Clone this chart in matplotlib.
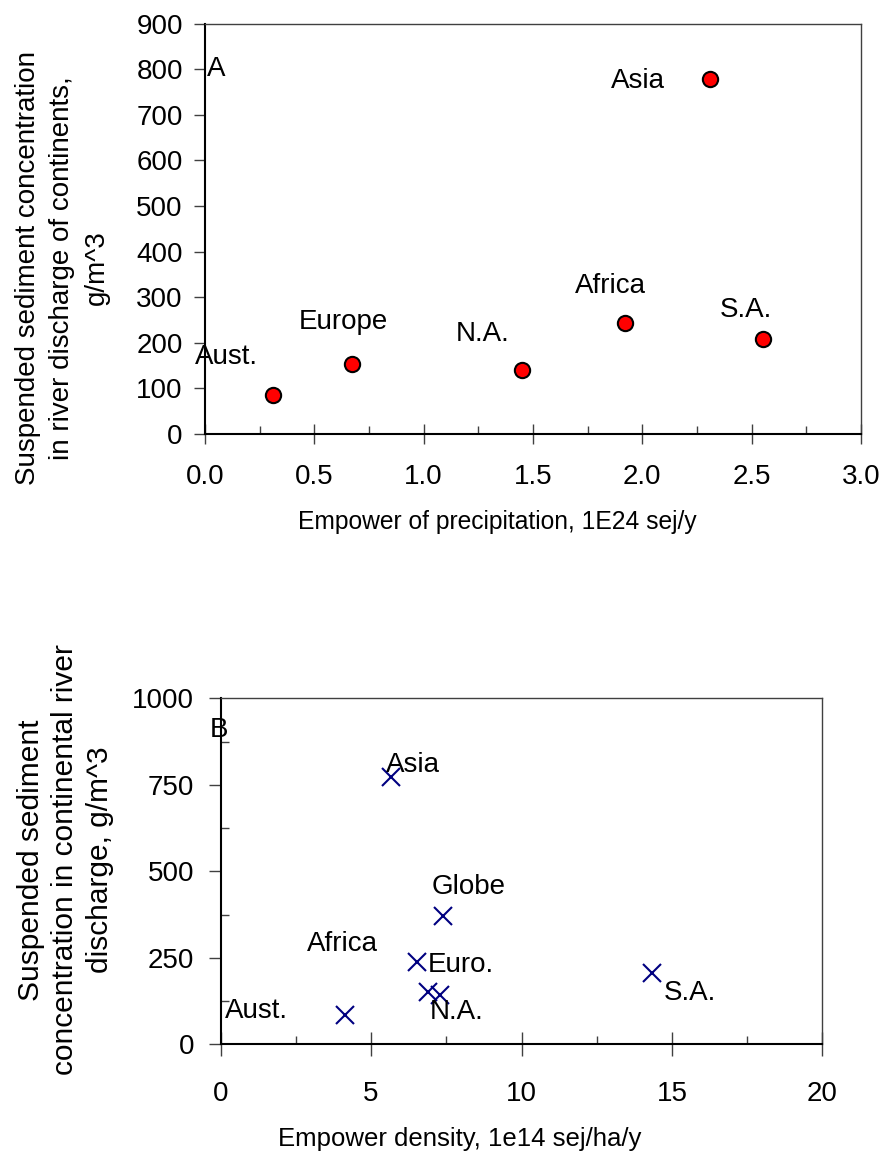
import numpy as np
import matplotlib
matplotlib.use('Agg')
import matplotlib.pyplot as plt
from matplotlib.ticker import MultipleLocator

plt.rcParams['font.family'] = ['Liberation Sans', 'DejaVu Sans']

# panel A data
a_names = ['Aust.', 'Europe', 'N.A.', 'Africa', 'Asia', 'S.A.']
a_empower = [0.31, 0.67, 1.45, 1.92, 2.31, 2.55]
a_sediment = [85, 154, 140, 243, 778, 209]
# label offsets in pixels from the point
a_offsets = [(-46, 38), (-8, 42), (-39, 36), (-14, 37), (-72, -2), (-17, 29)]

# panel B data
b_names = ['Aust.', 'Africa', 'Asia', 'Euro.', 'N.A.', 'Globe', 'S.A.']
b_density = [4.13, 6.51, 5.66, 6.90, 7.29, 7.40, 14.35]
b_sediment = [85, 239, 773, 152, 142, 372, 207]
b_offsets = [(-88, 4), (-74, 18), (22, 12), (33, 27), (17, -17), (25, 29), (38, -20)]


def style_axes(ax):
    for s in ['top', 'right']:
        ax.spines[s].set_color('#404040')
        ax.spines[s].set_linewidth(1.0)
    for s in ['left', 'bottom']:
        ax.spines[s].set_color('black')
        ax.spines[s].set_linewidth(1.5)


def put_labels(ax, x, y, names, offsets):
    for i, txt in enumerate(names):
        ax.annotate(txt, (x[i], y[i]), xytext=offsets[i], textcoords='offset pixels',
                    ha='center', va='center', fontsize=20)


fig = plt.figure(figsize=(8.81, 11.63), dpi=100)

# ---- A
ax1 = fig.add_axes([0.2327, 0.6268, 0.7446, 0.3528])
ax1.plot(a_empower, a_sediment, 'o', color='red', markeredgecolor='black',
         markeredgewidth=1.5, markersize=11, clip_on=False)
put_labels(ax1, a_empower, a_sediment, a_names, a_offsets)
ax1.set_xlim(0, 3.0)
ax1.set_ylim(0, 900)
ax1.xaxis.set_major_locator(MultipleLocator(0.5))
ax1.xaxis.set_minor_locator(MultipleLocator(0.25))
ax1.yaxis.set_major_locator(MultipleLocator(100))
ax1.xaxis.set_major_formatter(matplotlib.ticker.FormatStrFormatter('%.1f'))
ax1.tick_params(axis='x', which='major', direction='inout', length=15, width=1,
                color='#404040', labelsize=20, pad=14)
ax1.tick_params(axis='x', which='minor', direction='in', length=6, width=1, color='#404040')
ax1.tick_params(axis='y', which='major', direction='out', length=8, width=1,
                color='#404040', labelsize=20, pad=8)
ax1.text(0.01, 800, 'A', fontsize=20, ha='left', va='center')
ax1.set_xlabel('Empower of precipitation, 1E24 sej/y', fontsize=17.7)
ax1.xaxis.label.set_va('center')
ax1.xaxis.set_label_coords(0.445, -0.215)
ax1.set_ylabel('Suspended sediment concentration\nin river discharge of continents,\ng/m^3',
               fontsize=20, linespacing=1.42)
ax1.yaxis.label.set_va('center')
ax1.yaxis.set_label_coords(-0.218, 0.405)
style_axes(ax1)

# ---- B
ax2 = fig.add_axes([0.2505, 0.1021, 0.6829, 0.2975])
ax2.plot(b_density, b_sediment, 'x', color='#000080', markersize=13,
         markeredgewidth=1.5, clip_on=False)
put_labels(ax2, b_density, b_sediment, b_names, b_offsets)
ax2.set_xlim(0, 20)
ax2.set_ylim(0, 1000)
ax2.xaxis.set_major_locator(MultipleLocator(5))
ax2.xaxis.set_minor_locator(MultipleLocator(2.5))
ax2.yaxis.set_major_locator(MultipleLocator(250))
ax2.yaxis.set_minor_locator(MultipleLocator(125))
ax2.tick_params(axis='x', which='major', direction='inout', length=17, width=1,
                color='#404040', labelsize=20, pad=18)
ax2.tick_params(axis='x', which='minor', direction='in', length=6, width=1, color='#404040')
ax2.tick_params(axis='y', which='major', direction='out', length=9, width=1,
                color='#404040', labelsize=20, pad=10)
ax2.tick_params(axis='y', which='minor', direction='in', length=6, width=1, color='#404040')
ax2.text(-0.38, 908, 'B', fontsize=20, ha='left', va='center')
ax2.set_xlabel('Empower density, 1e14 sej/ha/y', fontsize=18.5)
ax2.xaxis.label.set_va('center')
ax2.xaxis.set_label_coords(0.398, -0.275)
ax2.set_ylabel('Suspended sediment\nconcentration in continental river\ndischarge, g/m^3',
               fontsize=21.5, linespacing=1.3)
ax2.yaxis.label.set_va('center')
ax2.yaxis.set_label_coords(-0.258, 0.533)
style_axes(ax2)

fig.savefig('out.png', dpi=100)
